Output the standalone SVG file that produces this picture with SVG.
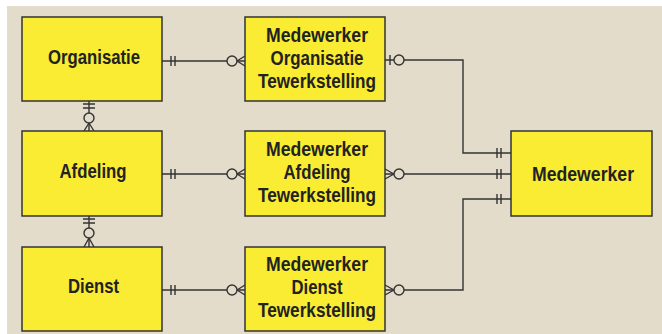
<svg xmlns="http://www.w3.org/2000/svg" width="662" height="334" viewBox="0 0 662 334">
<style>
.box{fill:#f9ec32;stroke:#333;stroke-width:1.5}
.lbl{font-family:"Liberation Sans",Arial,sans-serif;font-weight:bold;font-size:21px;fill:#222;text-anchor:middle}
.ln{fill:none;stroke:#333;stroke-width:1.4}
.cir{fill:#e3dccb;stroke:#333;stroke-width:1.4}
</style>
<rect x="0" y="0" width="662" height="334" fill="#ffffff"/>
<rect x="7" y="6" width="655" height="328" fill="#e3dccb"/>
<g id="connectors">
<path class="ln" d="M162,61 H245 M162,174 H245 M162,290 H245 M385,60 H463 V153 H511 M385,174 H511 M385,290 H463 V199 H511 M89,101 V131 M89,216 V247"/>
<path class="ln" d="M171,56 V66 M175,56 V66 M171,169 V179 M175,169 V179 M171,285 V295 M175,285 V295 M497,148 V158 M501,148 V158 M497,169 V179 M501,169 V179 M497,194 V204 M501,194 V204 M83,104 H95 M83,108 H95 M83,219 H95 M83,223 H95 M390,55 V65"/>
<path class="ln" d="M237,61 L245,56 M237,61 L245,66 M237,174 L245,169 M237,174 L245,179 M237,290 L245,285 M237,290 L245,295 M385,169 L394,174 M385,179 L394,174 M385,285 L394,290 M385,295 L394,290 M89,123 L84,131 M89,123 L94,131 M89,238 L84,247 M89,238 L94,247"/>
<circle class="cir" cx="232" cy="61" r="5"/>
<circle class="cir" cx="232" cy="174" r="5"/>
<circle class="cir" cx="232" cy="290" r="5"/>
<circle class="cir" cx="399" cy="60" r="5"/>
<circle class="cir" cx="399" cy="174" r="5"/>
<circle class="cir" cx="399" cy="290" r="5"/>
<circle class="cir" cx="89" cy="118" r="5"/>
<circle class="cir" cx="89" cy="233" r="5"/>
</g>
<g id="organisatie">
<rect class="box" x="22" y="17" width="140" height="84"/>
<text class="lbl" x="94" y="64" textLength="92" lengthAdjust="spacingAndGlyphs">Organisatie</text>
</g>
<g id="mw-organisatie">
<rect class="box" x="245" y="17" width="140" height="84"/>
<text class="lbl" x="317" y="42" textLength="102" lengthAdjust="spacingAndGlyphs">Medewerker</text>
<text class="lbl" x="317" y="65" textLength="93" lengthAdjust="spacingAndGlyphs">Organisatie</text>
<text class="lbl" x="317" y="88" textLength="118" lengthAdjust="spacingAndGlyphs">Tewerkstelling</text>
</g>
<g id="afdeling">
<rect class="box" x="22" y="131" width="140" height="85"/>
<text class="lbl" x="93" y="178" textLength="67" lengthAdjust="spacingAndGlyphs">Afdeling</text>
</g>
<g id="mw-afdeling">
<rect class="box" x="245" y="131" width="140" height="85"/>
<text class="lbl" x="317" y="156" textLength="102" lengthAdjust="spacingAndGlyphs">Medewerker</text>
<text class="lbl" x="317" y="179" textLength="67" lengthAdjust="spacingAndGlyphs">Afdeling</text>
<text class="lbl" x="317" y="202" textLength="118" lengthAdjust="spacingAndGlyphs">Tewerkstelling</text>
</g>
<g id="dienst">
<rect class="box" x="22" y="247" width="140" height="84"/>
<text class="lbl" x="93.5" y="293" textLength="51" lengthAdjust="spacingAndGlyphs">Dienst</text>
</g>
<g id="mw-dienst">
<rect class="box" x="245" y="247" width="140" height="84"/>
<text class="lbl" x="317" y="271" textLength="102" lengthAdjust="spacingAndGlyphs">Medewerker</text>
<text class="lbl" x="317" y="294" textLength="51" lengthAdjust="spacingAndGlyphs">Dienst</text>
<text class="lbl" x="317" y="317" textLength="118" lengthAdjust="spacingAndGlyphs">Tewerkstelling</text>
</g>
<g id="medewerker">
<rect class="box" x="511" y="131" width="141" height="85"/>
<text class="lbl" x="583" y="181" textLength="102" lengthAdjust="spacingAndGlyphs">Medewerker</text>
</g>
</svg>
